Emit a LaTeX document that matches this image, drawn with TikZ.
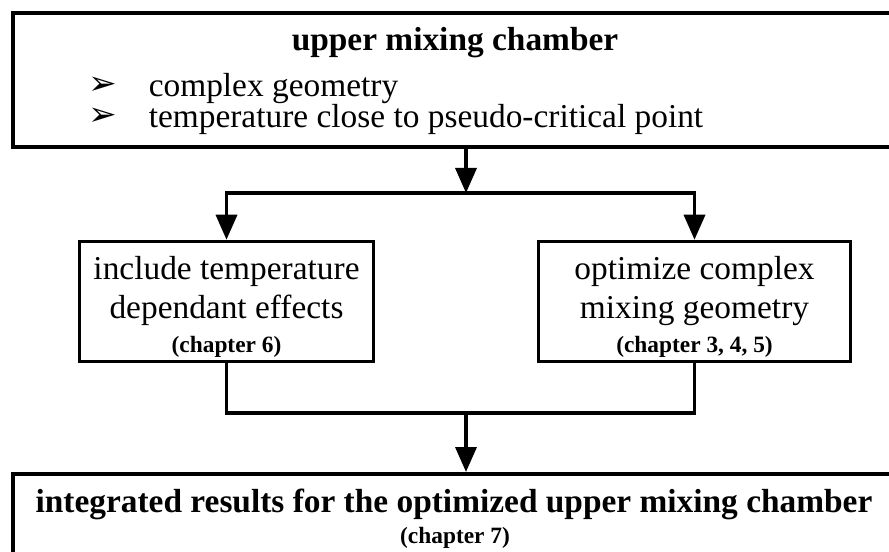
\documentclass[tikz,border=0pt]{standalone}
\usepackage{fontspec}
\setmainfont{Liberation Serif}
\newfontfamily\dingfont{DejaVu Sans}
\usetikzlibrary{arrows.meta}
\newcommand\itemmark{\scalebox{1.3}[1.25]{\dingfont ➢}}
\begin{document}
\begin{tikzpicture}[>={Triangle[length=0.5cm,width=0.42cm]},line width=2pt,
  box/.style={draw,line width=2pt,inner sep=0pt},
  big/.style={inner sep=0pt,font=\fontsize{19}{24}\selectfont},
  hd/.style={big,font=\fontsize{19}{24}\selectfont\bfseries},
  chap/.style={inner sep=0pt,font=\fontsize{13.3}{15}\selectfont\bfseries},
  bul/.style={inner sep=0pt,font=\fontsize{15}{17}\selectfont}]
\useasboundingbox(0,0)rectangle(17.78,11.02);
\clip(0,0)rectangle(17.78,11.02);
% upper box
\node[box,anchor=north west,minimum width=18.5cm,minimum height=2.68cm](chamber)at(0.23,10.79){};
\node[hd,anchor=base](title)at(9.1,10.0){upper mixing chamber};
\node[bul,anchor=base west](b1)at(1.74,9.12){\itemmark};
\node[big,anchor=base west](geo)at(2.94,9.08){complex geometry};
\node[bul,anchor=base west](b2)at(1.74,8.5){\itemmark};
\node[big,anchor=base west](crit)at(2.94,8.46){temperature close to pseudo-critical point};
% the two branches
\node[box,minimum width=5.88cm,minimum height=2.4cm](temp)at(4.53,4.99){};
\node[big,anchor=base](t1)at(4.53,5.42){include temperature};
\node[big,anchor=base](t2)at(4.53,4.66){dependant effects};
\node[chap,anchor=base](t3)at(4.53,3.98){(chapter 6)};
\node[box,minimum width=6.24cm,minimum height=2.4cm](geom)at(13.89,4.99){};
\node[big,anchor=base](g1)at(13.89,5.42){optimize complex};
\node[big,anchor=base](g2)at(13.89,4.66){mixing geometry};
\node[chap,anchor=base](g3)at(13.89,3.98){(chapter 3, 4, 5)};
% lower box
\node[box,anchor=north west,minimum width=18.5cm,minimum height=3cm](result)at(0.23,1.58){};
\node[hd,anchor=base](r1)at(9.08,0.78){integrated results for the optimized upper mixing chamber};
\node[chap,anchor=base](r2)at(9.1,0.15){(chapter 7)};
% connectors
\coordinate(split)at(9.32,7.16);
\coordinate(merge)at(9.32,2.76);
\draw[->](split|-chamber.south)--(split);
\draw[->](split)-|(temp.north);
\draw[->](split)-|(geom.north);
\draw(temp.south)|-(merge)-|(geom.south);
\draw[->](merge)--(merge|-result.north);
\end{tikzpicture}
\end{document}
